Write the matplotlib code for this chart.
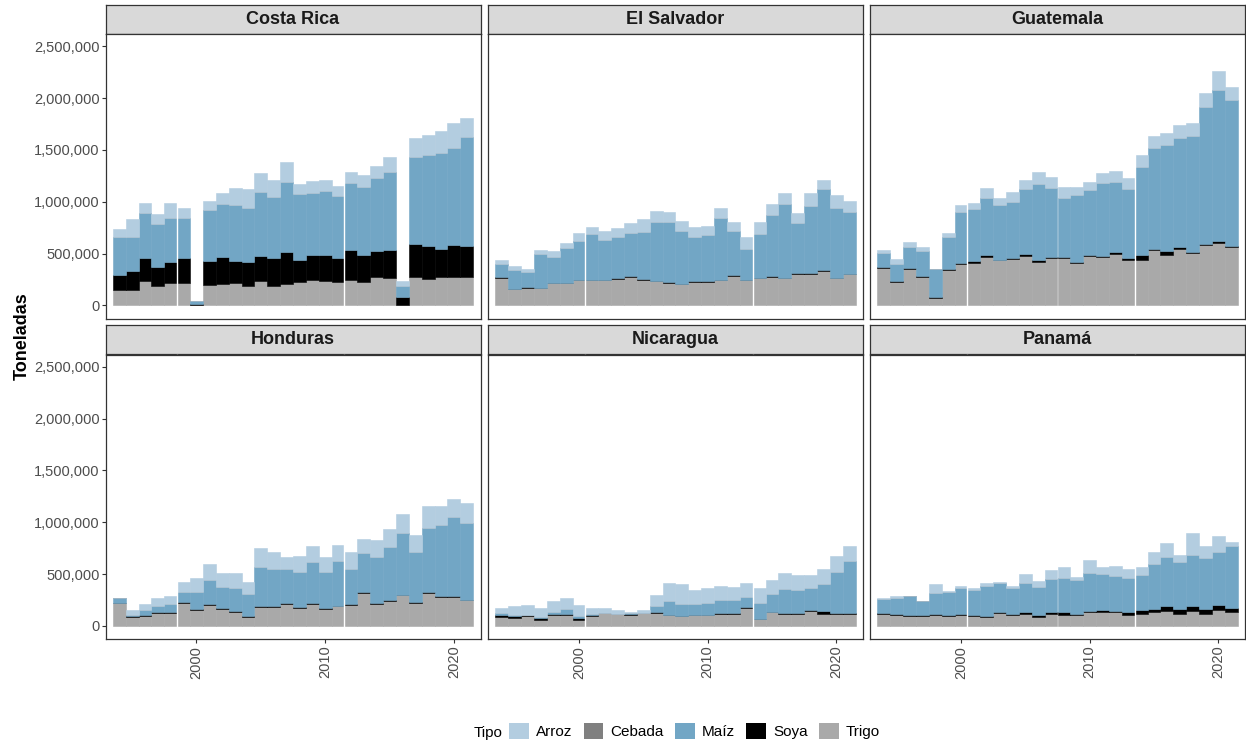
#!/usr/bin/env python3
import matplotlib
matplotlib.use('Agg')
import matplotlib.pyplot as plt
from matplotlib.patches import Patch
from matplotlib.ticker import FuncFormatter, FixedLocator

# --- DATA (miles de toneladas) ---
YEARS = list(range(1994, 2022))

# Costa Rica
CR_TRIGO = [151, 151, 238, 190, 216, 216, 0, 200, 203, 212, 190, 235, 190, 206, 222, 248, 238, 225, 245, 225, 270, 264, 0, 273, 251, 273, 273, 273]
CR_SOYA = [145, 184, 216, 180, 202, 238, 16, 228, 260, 216, 228, 241, 264, 306, 219, 235, 245, 235, 289, 261, 254, 270, 80, 322, 322, 274, 309, 297]
CR_MAIZ = [367, 328, 440, 415, 428, 392, 22, 489, 515, 537, 525, 618, 595, 678, 630, 601, 621, 595, 644, 656, 702, 753, 105, 837, 878, 920, 933, 1052]
CR_ARROZ = [74, 170, 94, 97, 142, 94, 5, 93, 103, 164, 177, 180, 164, 190, 103, 113, 106, 97, 106, 116, 119, 142, 50, 186, 193, 216, 248, 189]

# El Salvador
SV_TRIGO = [262, 153, 166, 166, 214, 214, 240, 240, 240, 253, 275, 240, 230, 214, 204, 224, 224, 240, 285, 240, 262, 275, 262, 307, 307, 336, 262, 298]
SV_SOYA = [8, 8, 8, 6, 6, 6, 6, 6, 6, 8, 6, 10, 8, 8, 6, 6, 6, 6, 8, 8, 6, 6, 6, 6, 6, 8, 6, 6]
SV_MAIZ = [132, 183, 145, 325, 251, 338, 379, 444, 383, 395, 418, 453, 570, 586, 512, 434, 444, 595, 421, 299, 422, 586, 708, 483, 650, 776, 670, 598]
SV_ARROZ = [39, 36, 35, 35, 51, 48, 74, 67, 90, 90, 97, 129, 106, 96, 96, 93, 96, 97, 94, 116, 116, 109, 106, 93, 119, 93, 131, 106]

# Guatemala
GT_TRIGO = [360, 225, 351, 277, 74, 338, 396, 409, 463, 434, 444, 479, 418, 457, 457, 409, 479, 470, 495, 434, 441, 531, 489, 547, 505, 586, 602, 566]
GT_SOYA = [8, 8, 8, 8, 8, 16, 8, 22, 20, 8, 8, 20, 20, 8, 5, 9, 6, 8, 17, 20, 45, 16, 35, 19, 13, 6, 19, 10]
GT_MAIZ = [137, 169, 207, 236, 269, 309, 500, 499, 550, 523, 545, 621, 730, 664, 574, 644, 625, 700, 678, 666, 849, 968, 1024, 1046, 1113, 1326, 1454, 1403]
GT_ARROZ = [29, 45, 42, 39, 3, 38, 61, 58, 96, 68, 97, 93, 116, 110, 106, 80, 80, 96, 107, 106, 119, 116, 119, 125, 132, 132, 190, 128]

# Honduras
HN_TRIGO = [217, 89, 98, 124, 124, 220, 153, 201, 166, 137, 89, 179, 185, 211, 175, 211, 163, 188, 198, 320, 208, 237, 294, 220, 320, 278, 278, 246]
HN_SOYA = [8, 6, 6, 6, 6, 8, 8, 8, 8, 8, 8, 10, 8, 8, 8, 8, 8, 8, 8, 8, 8, 8, 8, 8, 8, 8, 8, 8]
HN_MAIZ = [39, 12, 45, 64, 77, 100, 167, 229, 202, 219, 209, 379, 354, 328, 338, 396, 350, 431, 347, 370, 447, 514, 589, 483, 618, 689, 760, 743]
HN_ARROZ = [6, 42, 58, 74, 84, 97, 132, 154, 132, 144, 119, 180, 164, 113, 151, 154, 139, 155, 158, 142, 164, 177, 190, 167, 209, 180, 177, 190]

# Nicaragua
NI_TRIGO = [87, 80, 97, 58, 109, 109, 61, 97, 122, 119, 103, 122, 128, 104, 92, 104, 104, 117, 117, 175, 62, 130, 117, 117, 145, 119, 116, 116]
NI_SOYA = [16, 13, 9, 13, 6, 6, 16, 9, 6, 0, 7, 5, 7, 5, 5, 5, 5, 5, 5, 8, 6, 5, 5, 5, 6, 22, 5, 5]
NI_MAIZ = [22, 13, 3, 16, 20, 49, 16, 13, 0, 0, 15, 0, 55, 126, 115, 100, 113, 126, 126, 97, 151, 171, 232, 219, 213, 258, 403, 506]
NI_ARROZ = [49, 81, 90, 87, 100, 106, 106, 55, 46, 32, 10, 27, 103, 177, 187, 132, 142, 141, 128, 132, 145, 141, 154, 154, 131, 145, 148, 142]

# Panamá
PA_TRIGO = [119, 109, 97, 97, 109, 97, 109, 97, 84, 122, 100, 119, 90, 119, 109, 103, 132, 135, 132, 100, 119, 135, 145, 119, 142, 119, 151, 129]
PA_SOYA = [8, 8, 8, 8, 8, 8, 8, 8, 8, 8, 13, 13, 16, 13, 20, 16, 13, 20, 13, 29, 32, 32, 42, 45, 45, 45, 49, 45]
PA_MAIZ = [134, 153, 181, 136, 202, 226, 250, 239, 297, 279, 254, 283, 271, 316, 335, 319, 367, 341, 335, 335, 339, 429, 480, 451, 499, 487, 515, 596]
PA_ARROZ = [3, 20, 0, 0, 80, 7, 22, 20, 20, 16, 19, 81, 58, 93, 103, 35, 126, 74, 100, 84, 80, 113, 128, 71, 207, 119, 152, 36]

# no cebada imports recorded in any country
CEBADA = [0] * len(YEARS)

COUNTRIES = ["Costa Rica", "El Salvador", "Guatemala", "Honduras", "Nicaragua", "Panamá"]
SERIES = {
    "Costa Rica": (CR_TRIGO, CR_SOYA, CR_MAIZ, CEBADA, CR_ARROZ),
    "El Salvador": (SV_TRIGO, SV_SOYA, SV_MAIZ, CEBADA, SV_ARROZ),
    "Guatemala": (GT_TRIGO, GT_SOYA, GT_MAIZ, CEBADA, GT_ARROZ),
    "Honduras": (HN_TRIGO, HN_SOYA, HN_MAIZ, CEBADA, HN_ARROZ),
    "Nicaragua": (NI_TRIGO, NI_SOYA, NI_MAIZ, CEBADA, NI_ARROZ),
    "Panamá": (PA_TRIGO, PA_SOYA, PA_MAIZ, CEBADA, PA_ARROZ),
}
# stacking order, bottom to top
STACK = ["Trigo", "Soya", "Maíz", "Cebada", "Arroz"]
LEGEND_ORDER = ["Arroz", "Cebada", "Maíz", "Soya", "Trigo"]
COLORS = {
    "Arroz": "#B3CDE0",
    "Cebada": "#808080",
    "Maíz": "#72A6C5",
    "Soya": "#000000",
    "Trigo": "#A9A9A9",
}
SCALE = 1000  # miles -> toneladas

# --- LAYOUT (pixels) ---
W, H = 1246, 740
COL_LEFT = [105.5, 488, 870]
PANEL_W = 375
STRIP_TOP = [4.5, 325]
STRIP_H = 29.5
PANEL_H = 284.5
YLIM = (-127000, 2618000)
XLIM = (1992.93, 2022.07)
SEAMS = [(1998.5, 2011.5), (2000.5, 2013.5), (2000.5, 2013.5)]

BORDER = "#333333"
TICK_TXT = "#4D4D4D"

plt.rcParams['font.family'] = ['Liberation Sans', 'DejaVu Sans']

fig = plt.figure(figsize=(W / 100, H / 100), dpi=100)


def px_axes(x, y_top, w, h):
    return fig.add_axes([x / W, 1 - (y_top + h) / H, w / W, h / H])


for i, country in enumerate(COUNTRIES):
    row, col = divmod(i, 3)
    x0 = COL_LEFT[col]
    strip_top = STRIP_TOP[row]

    # strip header
    sax = px_axes(x0, strip_top, PANEL_W, STRIP_H)
    sax.set_facecolor("#D9D9D9")
    sax.set_xticks([])
    sax.set_yticks([])
    for sp in sax.spines.values():
        sp.set_color(BORDER)
        sp.set_linewidth(0.9)
    sax.text(0.5, 0.5, country, ha='center', va='center', fontsize=13,
             fontweight='bold', color="#1A1A1A", transform=sax.transAxes)

    ax = px_axes(x0, strip_top + STRIP_H, PANEL_W, PANEL_H)
    bottom = [0.0] * len(YEARS)
    for name, vals in zip(STACK, SERIES[country]):
        heights = [v * SCALE for v in vals]
        ax.bar(YEARS, heights, bottom=bottom, width=1.0, color=COLORS[name],
               edgecolor=COLORS[name], linewidth=0.4, zorder=1)
        bottom = [b + h for b, h in zip(bottom, heights)]
    for xs in SEAMS[col]:
        ax.axvline(xs, color='white', lw=1.0, zorder=2)

    ax.set_xlim(*XLIM)
    ax.set_ylim(*YLIM)
    ax.set_facecolor('white')
    for sp in ax.spines.values():
        sp.set_color(BORDER)
        sp.set_linewidth(0.9)
    ax.xaxis.set_major_locator(FixedLocator([2000, 2010, 2020]))
    ax.yaxis.set_major_locator(FixedLocator([0, 500000, 1000000, 1500000, 2000000, 2500000]))
    ax.yaxis.set_major_formatter(FuncFormatter(lambda v, p: f"{v:,.0f}"))
    ax.tick_params(axis='both', length=2.8, width=0.8, color=BORDER,
                   labelcolor=TICK_TXT, pad=1.5)
    ax.tick_params(axis='y', labelsize=10.5)
    ax.tick_params(axis='x', labelsize=10.5, labelrotation=90, pad=2)
    if col != 0:
        ax.tick_params(axis='y', left=False, labelleft=False)
    if row != 1:
        ax.tick_params(axis='x', bottom=False, labelbottom=False)

fig.text(22 / W, 1 - 336 / H, "Toneladas", rotation=90, ha='center', va='center',
         fontsize=13, fontweight='bold', color='black')

# legend along the bottom
handles = [Patch(facecolor=COLORS[k], edgecolor='none') for k in LEGEND_ORDER]
fig.text(474 / W, 1 - 733 / H, "Tipo", ha='left', va='center', fontsize=11, color='black')
fig.legend(handles, LEGEND_ORDER, loc='center left', bbox_to_anchor=(509 / W, 1 - 731 / H),
           ncol=5, frameon=False, fontsize=11, handlelength=1.3, handleheight=1.3,
           handletextpad=0.45, columnspacing=0.75, borderpad=0, borderaxespad=0)

fig.savefig("out.png", dpi=100, facecolor='white')
